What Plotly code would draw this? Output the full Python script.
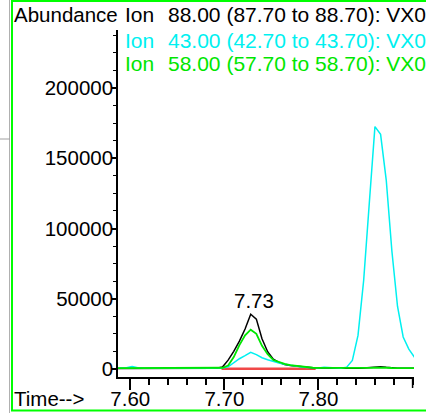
import plotly.graph_objects as go

# ---- data ----
times = [7.584, 7.590, 7.596, 7.602, 7.608, 7.614, 7.620, 7.626, 7.632, 7.638,
         7.644, 7.650, 7.656, 7.662, 7.668, 7.674, 7.680, 7.686, 7.692, 7.698,
         7.704, 7.710, 7.716, 7.722, 7.728, 7.734, 7.740, 7.746, 7.752, 7.758,
         7.764, 7.770, 7.776, 7.782, 7.788, 7.794, 7.800, 7.806, 7.812, 7.818,
         7.824, 7.830, 7.836, 7.842, 7.848, 7.854, 7.860, 7.866, 7.872, 7.878,
         7.884, 7.890, 7.896, 7.902, 7.908]

ion88 = [400, 420, 380, 410, 430, 400, 390, 420, 410, 400,
         380, 410, 420, 400, 390, 410, 430, 450, 600, 1400,
         6300, 12600, 19800, 28500, 39000, 35500, 21500, 12300, 7000, 4700,
         3200, 2500, 2000, 1500, 1100, 850, 700, 600, 550, 500,
         520, 500, 480, 520, 700, 1100, 1500, 1600, 1200, 800,
         600, 550, 500, 520, 500]

ion43 = [500, 550, 900, 1800, 900, 550, 500, 520, 500, 480,
         500, 520, 500, 490, 500, 510, 500, 520, 550, 700,
         1500, 4500, 7300, 9500, 11900, 10200, 8000, 6600, 5200, 4200,
         3400, 2600, 2000, 1500, 1100, 900, 800, 1300, 1100, 700,
         600, 1300, 6100, 23900, 63000, 118000, 172500, 167000, 134500, 84000,
         44500, 22800, 14100, 8300, 4000]

ion58 = [600, 620, 590, 610, 600, 580, 600, 610, 620, 600,
         590, 600, 610, 600, 590, 600, 620, 650, 700, 900,
         2500, 8500, 17000, 24000, 28000, 25000, 16500, 10500, 6400, 4800,
         3600, 2800, 2200, 1600, 1200, 900, 750, 700, 650, 700,
         650, 620, 650, 600, 650, 800, 1000, 1100, 900, 700,
         650, 600, 620, 600, 600]

baseline_times = [7.697, 7.797]
baseline_values = [200, 200]

peak_time = 7.732
peak_height = 39000
peak_label = "7.73"

ion_word = "Ion"
ion_texts = [
    "88.00 (87.70 to 88.70): VX0",
    "43.00 (42.70 to 43.70): VX0",
    "58.00 (57.70 to 58.70): VX0",
]

x_ticks = [7.60, 7.70, 7.80]
x_ticktext = ["7.60", "7.70", "7.80"]
y_ticks = [0, 50000, 100000, 150000, 200000]
y_ticktext = ["0", "50000", "100000", "150000", "200000"]

# ---- styling ----
FONT = "Liberation Sans, Arial, sans-serif"
BLACK = "#000000"
CYAN = "#00f0f0"
GREEN = "#00e600"
RED = "#f04848"
FS = 20.5
FS_LEG = 21

W, H = 426, 413
L, R, T, B = 118, 12, 30, 36
PW, PH = W - L - R, H - T - B


def px(xp):
    return (xp - L) / PW


def py(yp):
    return (H - B - yp) / PH


fig = go.Figure()
fig.add_trace(go.Scatter(x=baseline_times, y=baseline_values, mode="lines",
                         line=dict(color=RED, width=2.5), hoverinfo="skip"))
fig.add_trace(go.Scatter(x=times, y=ion88, mode="lines",
                         line=dict(color=BLACK, width=1.5)))
fig.add_trace(go.Scatter(x=times, y=ion43, mode="lines",
                         line=dict(color=CYAN, width=1.5)))
fig.add_trace(go.Scatter(x=times, y=ion58, mode="lines",
                         line=dict(color=GREEN, width=1.8)))

annotations = [
    dict(x=px(12), y=py(14), xref="paper", yref="paper", text="Abundance",
         xanchor="left", yanchor="middle", showarrow=False,
         font=dict(family=FONT, size=FS, color=BLACK)),
    dict(x=px(12), y=py(398), xref="paper", yref="paper", text="Time-->",
         xanchor="left", yanchor="middle", showarrow=False,
         font=dict(family=FONT, size=FS, color=BLACK)),
    dict(x=peak_time, y=peak_height, xref="x", yref="y", text=peak_label,
         xanchor="center", yanchor="bottom", yshift=0, showarrow=False,
         font=dict(family=FONT, size=FS, color=BLACK)),
]
for txt, col, yc in zip(ion_texts, [BLACK, CYAN, GREEN], [15, 40.5, 63]):
    annotations.append(dict(x=px(123), y=py(yc), xref="paper", yref="paper",
                            text=ion_word, xanchor="left", yanchor="middle",
                            showarrow=False,
                            font=dict(family=FONT, size=FS_LEG, color=col)))
    annotations.append(dict(x=px(166), y=py(yc), xref="paper", yref="paper",
                            text=txt, xanchor="left", yanchor="middle",
                            showarrow=False,
                            font=dict(family=FONT, size=FS_LEG, color=col)))

shapes = [
    # green frame
    dict(type="rect", xref="paper", yref="paper", x0=px(12), x1=px(445),
         y0=py(410.5), y1=py(1), line=dict(color="#00ff00", width=2)),
    # grey remnants at the left edge
    dict(type="line", xref="paper", yref="paper", x0=px(9.5), x1=px(9.5),
         y0=py(0), y1=py(413), line=dict(color="#b0b0b0", width=1)),
    dict(type="line", xref="paper", yref="paper", x0=px(0), x1=px(10),
         y0=py(139), y1=py(139), line=dict(color="#a0a0a0", width=1)),
    # long tick at the end of the time axis
    dict(type="line", xref="x", yref="paper", x0=7.90, x1=7.90,
         y0=0, y1=-11 / PH, line=dict(color=BLACK, width=1.5)),
]

fig.update_layout(
    width=W, height=H,
    margin=dict(l=L, r=R, t=T, b=B, pad=0, autoexpand=False),
    paper_bgcolor="white", plot_bgcolor="white",
    showlegend=False,
    font=dict(family=FONT, size=FS, color=BLACK),
    annotations=annotations,
    shapes=shapes,
    xaxis=dict(range=[7.587, 7.9015], tickvals=x_ticks, ticktext=x_ticktext,
               automargin=False, ticklabelstandoff=-8,
               ticks="outside", ticklen=11, tickwidth=1.5, tickcolor=BLACK,
               showline=True, linecolor=BLACK, linewidth=1.5,
               showgrid=False, zeroline=False,
               tickfont=dict(family=FONT, size=FS, color=BLACK),
               minor=dict(dtick=0.02, tick0=7.60, ticks="outside", ticklen=6,
                          tickwidth=1.5, tickcolor=BLACK, showgrid=False)),
    yaxis=dict(range=[-5700, 241300], tickvals=y_ticks, ticktext=y_ticktext,
               automargin=False, ticklabelstandoff=-5,
               ticks="outside", ticklen=4, tickwidth=1.5, tickcolor=BLACK,
               showline=True, linecolor=BLACK, linewidth=1.5,
               showgrid=False, zeroline=False,
               tickfont=dict(family=FONT, size=FS, color=BLACK),
               minor=dict(dtick=12500, tick0=0, ticks="outside", ticklen=3,
                          tickwidth=1, tickcolor=BLACK, showgrid=False)),
)

fig.write_html("out.html",
               config={"displayModeBar": False},
               post_script="document.body.style.margin='0';"
                           "document.body.style.overflow='hidden';")
